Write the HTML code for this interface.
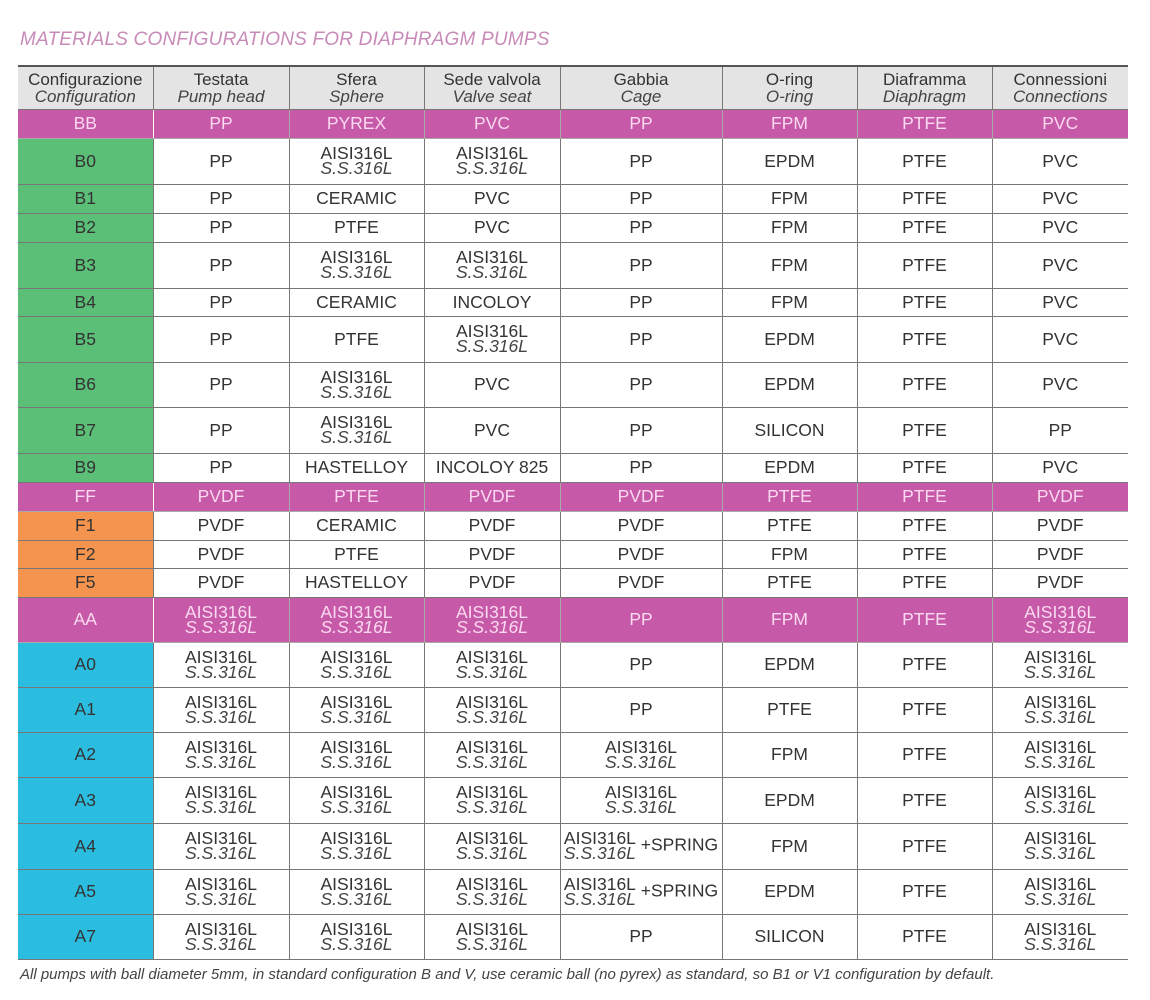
<!DOCTYPE html>
<html><head><meta charset="utf-8"><style>
body{margin:0;width:1150px;height:1000px;background:#fff;font-family:"Liberation Sans",sans-serif;color:#333;position:relative;overflow:hidden}
.t{position:absolute;left:20px;top:29px;font-size:19px;font-style:italic;color:#c88bb8;letter-spacing:0.2px}
table{position:absolute;left:18px;top:65px;border-collapse:collapse;table-layout:fixed;width:1110px}
td{border:1px solid #777;text-align:center;vertical-align:middle;font-size:17.5px;padding:0;line-height:15px;overflow:hidden}
tr td:last-child{border-right:none}
tr td:first-child{border-left:none}
tr:first-child td{border-top:2px solid #555;background:#e4e4e4;line-height:17px;font-size:17px}
i{font-style:italic;color:#444}
.m td{background:#c65aa8;color:#fbd9f0;border-color:#a9a9a9}
.g{background:#5bbf78}.o{background:#f5944e}.c{background:#2bbde0}
.m td.x{border-right:1px solid #fff}
.f{position:absolute;left:20px;top:966px;font-size:15px;font-style:italic;color:#444}
</style></head><body>
<div class="t">MATERIALS CONFIGURATIONS FOR DIAPHRAGM PUMPS</div>
<table>
<colgroup><col style="width:135px"><col style="width:136px"><col style="width:135px"><col style="width:136px"><col style="width:162px"><col style="width:135px"><col style="width:135px"><col style="width:136px"></colgroup>
<tr style="height:43px"><td>Configurazione<br><i>Configuration</i></td><td>Testata<br><i>Pump head</i></td><td>Sfera<br><i>Sphere</i></td><td>Sede valvola<br><i>Valve seat</i></td><td>Gabbia<br><i>Cage</i></td><td>O-ring<br><i>O-ring</i></td><td>Diaframma<br><i>Diaphragm</i></td><td>Connessioni<br><i>Connections</i></td></tr>
<tr class="m" style="height:29px"><td class="x">BB</td><td>PP</td><td>PYREX</td><td>PVC</td><td>PP</td><td>FPM</td><td>PTFE</td><td>PVC</td></tr>
<tr style="height:46px"><td class="g">B0</td><td>PP</td><td>AISI316L<br><i>S.S.316L</i></td><td>AISI316L<br><i>S.S.316L</i></td><td>PP</td><td>EPDM</td><td>PTFE</td><td>PVC</td></tr>
<tr style="height:29px"><td class="g">B1</td><td>PP</td><td>CERAMIC</td><td>PVC</td><td>PP</td><td>FPM</td><td>PTFE</td><td>PVC</td></tr>
<tr style="height:29px"><td class="g">B2</td><td>PP</td><td>PTFE</td><td>PVC</td><td>PP</td><td>FPM</td><td>PTFE</td><td>PVC</td></tr>
<tr style="height:46px"><td class="g">B3</td><td>PP</td><td>AISI316L<br><i>S.S.316L</i></td><td>AISI316L<br><i>S.S.316L</i></td><td>PP</td><td>FPM</td><td>PTFE</td><td>PVC</td></tr>
<tr style="height:28px"><td class="g">B4</td><td>PP</td><td>CERAMIC</td><td>INCOLOY</td><td>PP</td><td>FPM</td><td>PTFE</td><td>PVC</td></tr>
<tr style="height:46px"><td class="g">B5</td><td>PP</td><td>PTFE</td><td>AISI316L<br><i>S.S.316L</i></td><td>PP</td><td>EPDM</td><td>PTFE</td><td>PVC</td></tr>
<tr style="height:45px"><td class="g">B6</td><td>PP</td><td>AISI316L<br><i>S.S.316L</i></td><td>PVC</td><td>PP</td><td>EPDM</td><td>PTFE</td><td>PVC</td></tr>
<tr style="height:46px"><td class="g">B7</td><td>PP</td><td>AISI316L<br><i>S.S.316L</i></td><td>PVC</td><td>PP</td><td>SILICON</td><td>PTFE</td><td>PP</td></tr>
<tr style="height:29px"><td class="g">B9</td><td>PP</td><td>HASTELLOY</td><td>INCOLOY 825</td><td>PP</td><td>EPDM</td><td>PTFE</td><td>PVC</td></tr>
<tr class="m" style="height:29px"><td class="x">FF</td><td>PVDF</td><td>PTFE</td><td>PVDF</td><td>PVDF</td><td>PTFE</td><td>PTFE</td><td>PVDF</td></tr>
<tr style="height:29px"><td class="o">F1</td><td>PVDF</td><td>CERAMIC</td><td>PVDF</td><td>PVDF</td><td>PTFE</td><td>PTFE</td><td>PVDF</td></tr>
<tr style="height:28px"><td class="o">F2</td><td>PVDF</td><td>PTFE</td><td>PVDF</td><td>PVDF</td><td>FPM</td><td>PTFE</td><td>PVDF</td></tr>
<tr style="height:29px"><td class="o">F5</td><td>PVDF</td><td>HASTELLOY</td><td>PVDF</td><td>PVDF</td><td>PTFE</td><td>PTFE</td><td>PVDF</td></tr>
<tr class="m" style="height:45px"><td class="x">AA</td><td>AISI316L<br><i style="color:#fbd9f0">S.S.316L</i></td><td>AISI316L<br><i style="color:#fbd9f0">S.S.316L</i></td><td>AISI316L<br><i style="color:#fbd9f0">S.S.316L</i></td><td>PP</td><td>FPM</td><td>PTFE</td><td>AISI316L<br><i style="color:#fbd9f0">S.S.316L</i></td></tr>
<tr style="height:45px"><td class="c">A0</td><td>AISI316L<br><i>S.S.316L</i></td><td>AISI316L<br><i>S.S.316L</i></td><td>AISI316L<br><i>S.S.316L</i></td><td>PP</td><td>EPDM</td><td>PTFE</td><td>AISI316L<br><i>S.S.316L</i></td></tr>
<tr style="height:45px"><td class="c">A1</td><td>AISI316L<br><i>S.S.316L</i></td><td>AISI316L<br><i>S.S.316L</i></td><td>AISI316L<br><i>S.S.316L</i></td><td>PP</td><td>PTFE</td><td>PTFE</td><td>AISI316L<br><i>S.S.316L</i></td></tr>
<tr style="height:45px"><td class="c">A2</td><td>AISI316L<br><i>S.S.316L</i></td><td>AISI316L<br><i>S.S.316L</i></td><td>AISI316L<br><i>S.S.316L</i></td><td>AISI316L<br><i>S.S.316L</i></td><td>FPM</td><td>PTFE</td><td>AISI316L<br><i>S.S.316L</i></td></tr>
<tr style="height:46px"><td class="c">A3</td><td>AISI316L<br><i>S.S.316L</i></td><td>AISI316L<br><i>S.S.316L</i></td><td>AISI316L<br><i>S.S.316L</i></td><td>AISI316L<br><i>S.S.316L</i></td><td>EPDM</td><td>PTFE</td><td>AISI316L<br><i>S.S.316L</i></td></tr>
<tr style="height:46px"><td class="c">A4</td><td>AISI316L<br><i>S.S.316L</i></td><td>AISI316L<br><i>S.S.316L</i></td><td>AISI316L<br><i>S.S.316L</i></td><td><span style="display:inline-block;vertical-align:middle">AISI316L<br><i>S.S.316L</i></span> +SPRING</td><td>FPM</td><td>PTFE</td><td>AISI316L<br><i>S.S.316L</i></td></tr>
<tr style="height:45px"><td class="c">A5</td><td>AISI316L<br><i>S.S.316L</i></td><td>AISI316L<br><i>S.S.316L</i></td><td>AISI316L<br><i>S.S.316L</i></td><td><span style="display:inline-block;vertical-align:middle">AISI316L<br><i>S.S.316L</i></span> +SPRING</td><td>EPDM</td><td>PTFE</td><td>AISI316L<br><i>S.S.316L</i></td></tr>
<tr style="height:45px"><td class="c">A7</td><td>AISI316L<br><i>S.S.316L</i></td><td>AISI316L<br><i>S.S.316L</i></td><td>AISI316L<br><i>S.S.316L</i></td><td>PP</td><td>SILICON</td><td>PTFE</td><td>AISI316L<br><i>S.S.316L</i></td></tr>
</table>
<div class="f">All pumps with ball diameter 5mm, in standard configuration B and V, use ceramic ball (no pyrex) as standard, so B1 or V1 configuration by default.</div>
</body></html>
